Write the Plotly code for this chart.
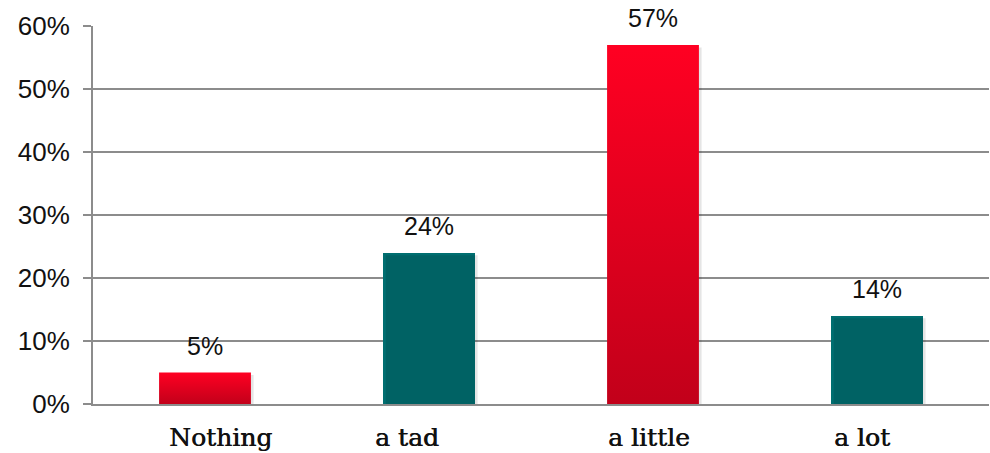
import plotly.graph_objects as go

# Survey answers and their shares
categories = ["Nothing", "a tad", "a little", "a lot"]
shares = [0.05, 0.24, 0.57, 0.14]
is_red = [True, False, True, False]

RED_TOP = "#FF0022"
RED_BOTTOM = "#C2001A"
TEAL = "#006E70"
GRID = "#8C8C8C"
BAR_WIDTH = 0.41
# horizontal nudge of each category caption, in pixels
LABEL_NUDGE = [15, -22, -4, -15]

fig = go.Figure()

# soft drop shadow behind every bar
for i, v in enumerate(shares):
    dx, dy = 0.012, 0.004
    fig.add_trace(go.Scatter(
        x=[i - BAR_WIDTH / 2 + dx, i + BAR_WIDTH / 2 + dx, i + BAR_WIDTH / 2 + dx, i - BAR_WIDTH / 2 + dx, i - BAR_WIDTH / 2 + dx],
        y=[-dy, -dy, v - dy, v - dy, -dy],
        fill="toself", fillcolor="rgba(0,0,0,0.10)", line=dict(width=0),
        mode="lines", hoverinfo="skip", showlegend=False,
    ))

# teal bars
teal_x = [i for i, r in enumerate(is_red) if not r]
teal_y = [shares[i] for i in teal_x]
fig.add_trace(go.Bar(
    x=teal_x, y=teal_y, width=BAR_WIDTH,
    marker=dict(color=TEAL, line=dict(width=0)),
    showlegend=False, hoverinfo="skip",
))

# red bars with a vertical gradient
for i, v in enumerate(shares):
    if not is_red[i]:
        continue
    x0, x1 = i - BAR_WIDTH / 2, i + BAR_WIDTH / 2
    fig.add_trace(go.Scatter(
        x=[x0, x1, x1, x0, x0], y=[0, 0, v, v, 0],
        fill="toself", mode="lines", line=dict(width=0),
        fillgradient=dict(type="vertical",
                          colorscale=[[0, RED_BOTTOM], [1, RED_TOP]]),
        hoverinfo="skip", showlegend=False,
    ))

# value labels above bars
for i, v in enumerate(shares):
    fig.add_annotation(
        x=i, y=v, text=f"{v:.0%}", showarrow=False,
        yanchor="bottom", yshift=11,
        font=dict(family="Liberation Sans, Arial, sans-serif", size=25, color="#111111"),
    )

# category captions below the axis
for i, name in enumerate(categories):
    fig.add_annotation(
        x=i, y=0, yref="y", text=name, showarrow=False,
        yanchor="top", yshift=-17, xshift=LABEL_NUDGE[i],
        font=dict(family="DejaVu Serif, serif", size=25, color="#111111",
                  shadow="0.6px 0px 0px #111111"),
    )

fig.update_layout(
    width=990, height=453,
    margin=dict(l=93, r=1, t=26, b=49),
    paper_bgcolor="white", plot_bgcolor="white",
    bargap=0,
)

fig.update_xaxes(
    range=[-0.5, 3.5], automargin=False,
    showticklabels=False, ticks="", showgrid=False, zeroline=False,
    showline=True, linecolor=GRID, linewidth=2,
    minor=dict(tick0=0.5, dtick=1, ticks="outside", ticklen=7, tickcolor=GRID, tickwidth=2, showgrid=False),
)

fig.update_yaxes(
    range=[0, 0.6], automargin=False, tickmode="linear", tick0=0, dtick=0.1, tickformat=".0%",
    showgrid=True, gridcolor=GRID, gridwidth=2,
    zeroline=False, showline=True, linecolor=GRID, linewidth=2,
    ticks="outside", ticklen=8, tickcolor=GRID, tickwidth=2,
    tickfont=dict(family="Liberation Sans, Arial, sans-serif", size=26, color="#111111"),
    ticklabelstandoff=8,
)

fig.write_html("out.html")
